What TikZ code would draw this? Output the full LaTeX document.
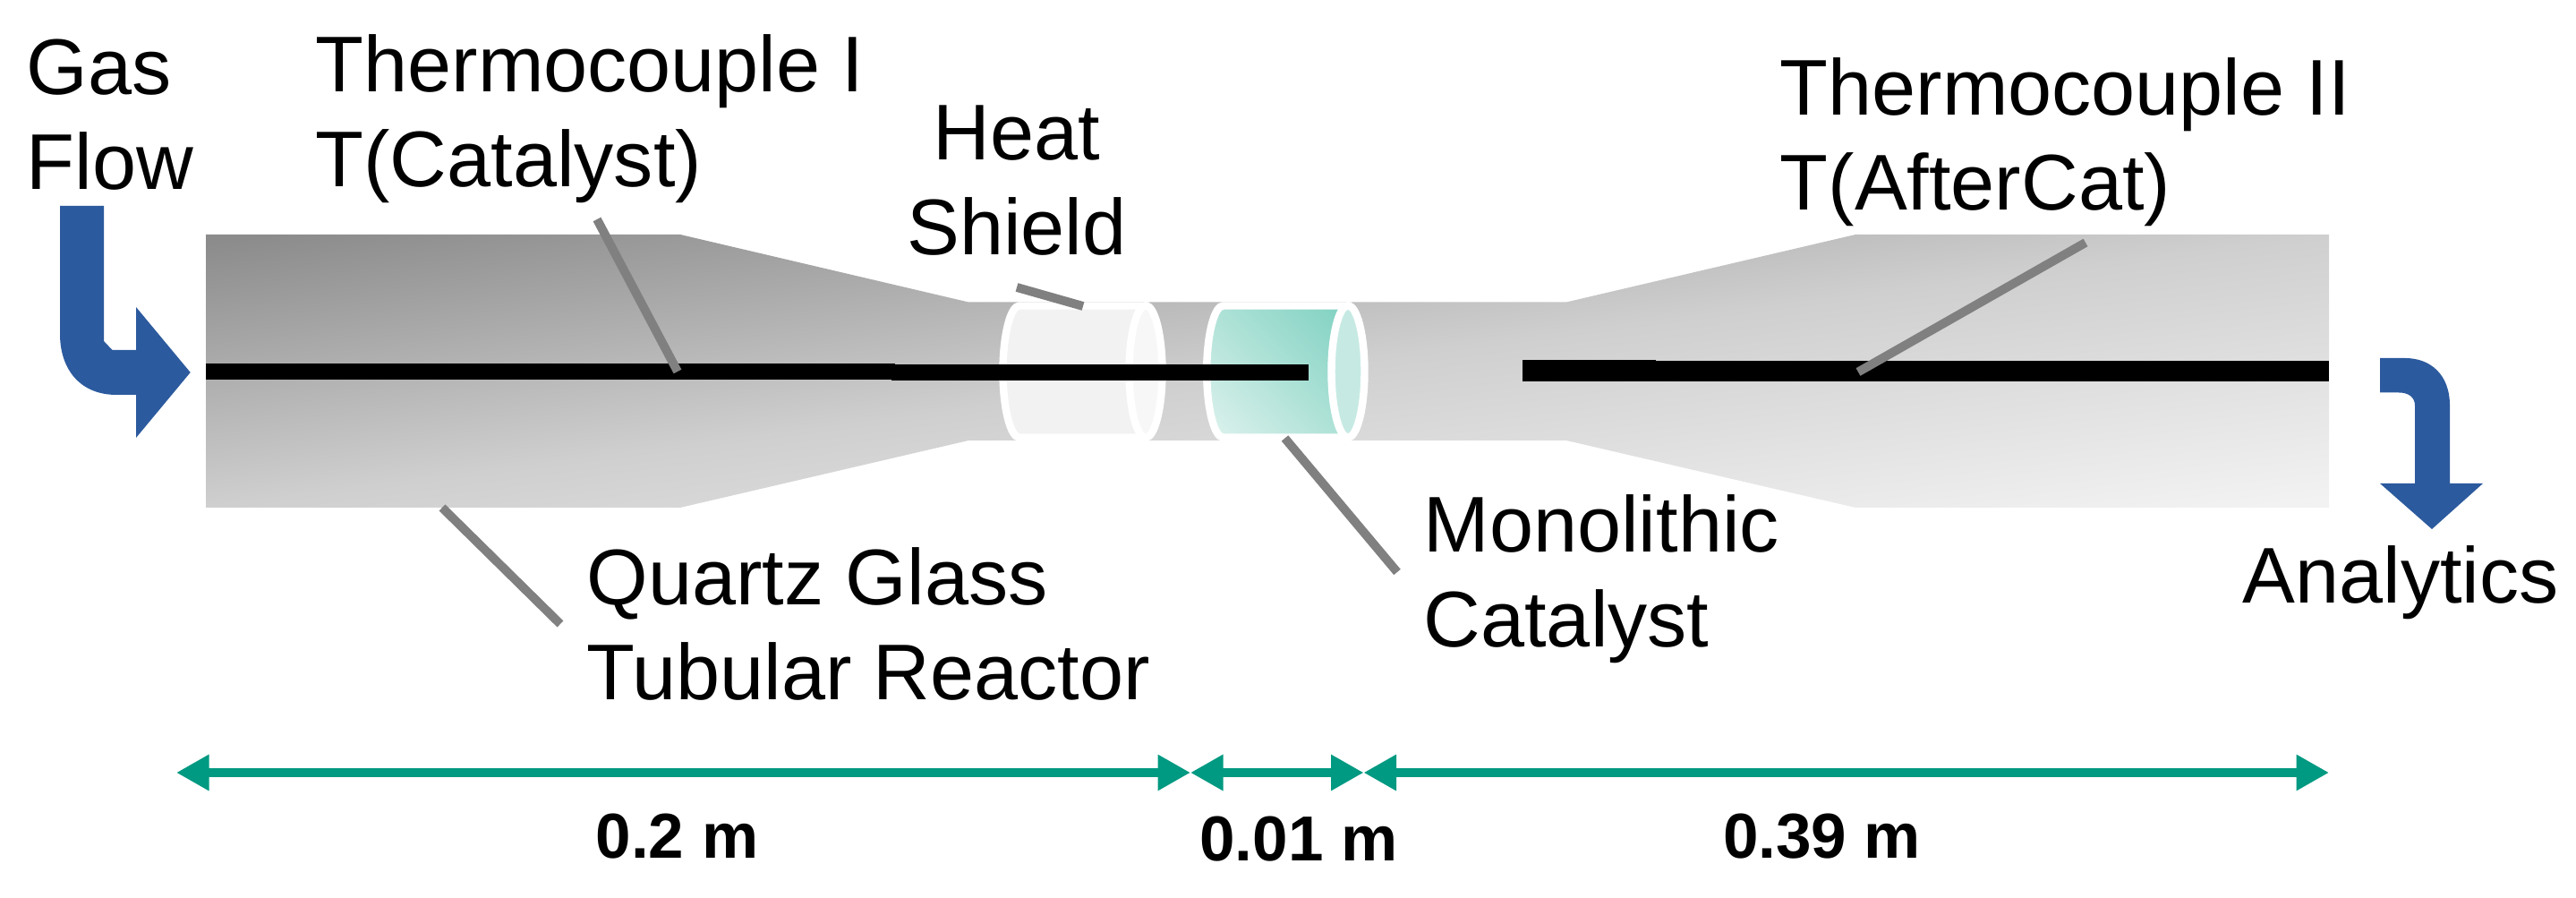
\documentclass[tikz,border=0pt]{standalone}
\usepackage{fontspec}
\setmainfont{Liberation Sans}
\usetikzlibrary{arrows.meta}

\definecolor{flowblue}{HTML}{2C5A9E}
\definecolor{dimgreen}{HTML}{009981}
\definecolor{leadgray}{HTML}{808080}
\definecolor{reactA}{HTML}{8C8C8C}
\definecolor{reactB}{HTML}{CFCFCF}
\definecolor{reactC}{HTML}{F2F2F2}
\definecolor{catA}{HTML}{7FD1C1}
\definecolor{catB}{HTML}{DDF2ED}
\definecolor{catC}{HTML}{C6EAE3}
\pgfdeclareverticalshading{reactshade}{100bp}{color(0bp)=(reactC); color(23bp)=(reactC); color(50bp)=(reactB); color(77bp)=(reactA); color(100bp)=(reactA)}
\pgfdeclareverticalshading{catshade}{100bp}{color(0bp)=(catB); color(15bp)=(catB); color(85bp)=(catA); color(100bp)=(catA)}

\tikzset{
	lab/.style={inner sep=0pt, anchor=base west, align=left, font=\fontsize{25.1}{30.2}\selectfont},
	dimlab/.style={inner sep=0pt, anchor=base, font=\fontsize{20.2}{24}\selectfont\bfseries},
	lead/.style={draw=leadgray, line width=2.8pt},
	thermo/.style={draw=black, line width=5.1pt},
	dimarrow/.style={draw=dimgreen, line width=2.8pt, {Triangle[length=3.65mm,width=3.8mm]}-{Triangle[length=3.65mm,width=3.8mm]}},
	cyl/.style={draw=white, line width=2.4pt}
}

\begin{document}
\begin{tikzpicture}
	\useasboundingbox (0, 0) rectangle (28.78, 10.03);

	% reactor
	\path[shading=reactshade, shading angle=7.3] (2.30, 7.41) -- (7.60, 7.41) -- (10.82, 6.655) -- (17.50, 6.655) -- (20.73, 7.41) -- (26.02, 7.41) -- (26.02, 4.36) -- (20.73, 4.36) -- (17.50, 5.11) -- (10.82, 5.11) -- (7.60, 4.36) -- (2.30, 4.36) -- cycle;

	% heat shield
	\draw[cyl, fill=black!5] (11.39, 6.615) arc[start angle=90, end angle=270, x radius=0.185, y radius=0.736] -- (12.80, 5.143) -- (12.80, 6.615) -- cycle;
	\draw[cyl, fill=black!3] (12.80, 5.88) ellipse (0.185 and 0.736);

	% catalyst
	\draw[cyl, shading=catshade, shading angle=-45] (13.667, 6.615) arc[start angle=90, end angle=270, x radius=0.185, y radius=0.736] -- (15.06, 5.143) -- (15.06, 6.615) -- cycle;
	\draw[cyl, fill=catC] (15.06, 5.88) ellipse (0.185 and 0.736);

	% thermocouples
	\draw[thermo] (2.30, 5.88) -- (10.00, 5.88);
	\draw[thermo] (9.96, 5.87) -- (14.62, 5.87);
	\draw[thermo, line width=6.8pt] (17.01, 5.89) -- (18.50, 5.89);
	\draw[thermo, line width=6.6pt] (18.48, 5.885) -- (26.02, 5.885);

	% leaders
	\coordinate (leadIa) at (6.67, 7.58);
	\coordinate (leadIb) at (7.57, 5.88);
	\coordinate (leadIIa) at (23.30, 7.32);
	\coordinate (leadIIb) at (20.76, 5.875);
	\coordinate (leadSa) at (11.36, 6.82);
	\coordinate (leadSb) at (12.10, 6.61);
	\coordinate (leadCa) at (14.355, 5.135);
	\coordinate (leadCb) at (15.61, 3.64);
	\coordinate (leadQa) at (4.94, 4.36);
	\coordinate (leadQb) at (6.26, 3.06);
	\draw[lead] (leadIa) -- (leadIb);
	\draw[lead] (leadIIa) -- (leadIIb);
	\draw[lead] (leadSa) -- (leadSb);
	\draw[lead] (leadCa) -- (leadCb);
	\draw[lead] (leadQa) -- (leadQb);

	% flow arrows
	\fill[flowblue] (1.16, 7.73) -- (1.16, 6.22) -- (1.255, 6.12) -- (1.52, 6.12) -- (1.52, 6.60) -- (2.127, 5.87) -- (1.52, 5.14) -- (1.52, 5.62) -- (1.30, 5.62) .. controls (0.90, 5.62) and (0.67, 5.90) .. (0.67, 6.30) -- (0.67, 7.73) -- cycle;
	\fill[flowblue] (26.59, 6.03) -- (26.87, 6.03) .. controls (27.15, 6.03) and (27.37, 5.85) .. (27.37, 5.50) -- (27.37, 4.63) -- (27.74, 4.63) -- (27.17, 4.12) -- (26.59, 4.63) -- (26.98, 4.63) -- (26.98, 5.50) .. controls (26.98, 5.60) and (26.90, 5.645) .. (26.80, 5.645) -- (26.59, 5.645) -- cycle;

	% labels
	\node[lab] (gas) at (0.29, 7.91) {Gas\\Flow};
	\node[lab] (thermoI) at (3.52, 7.94) {Thermocouple I\\T(Catalyst)};
	\node[lab, anchor=base, align=center] (shield) at (11.36, 7.18) {Heat\\Shield};
	\node[lab] (thermoII) at (19.88, 7.68) {Thermocouple II\\T(AfterCat)};
	\node[lab] (mono) at (15.90, 2.805) {Monolithic\\Catalyst};
	\node[lab] (quartz) at (6.55, 2.21) {Quartz Glass\\Tubular Reactor};
	\node[lab] (analytics) at (25.05, 3.29) {Analytics};

	% dimensions
	\coordinate (dimA) at (1.97, 1.40);
	\coordinate (dimB) at (13.30, 1.40);
	\coordinate (dimC) at (15.235, 1.40);
	\coordinate (dimD) at (26.02, 1.40);
	\draw[dimarrow] (dimA) -- (dimB);
	\draw[dimarrow] (dimB) -- (dimC);
	\draw[dimarrow] (dimC) -- (dimD);
	\node[dimlab] (lenA) at (7.565, 0.44) {0.2 m};
	\node[dimlab] (lenB) at (14.51, 0.41) {0.01 m};
	\node[dimlab] (lenC) at (20.355, 0.44) {0.39 m};
\end{tikzpicture}
\end{document}
